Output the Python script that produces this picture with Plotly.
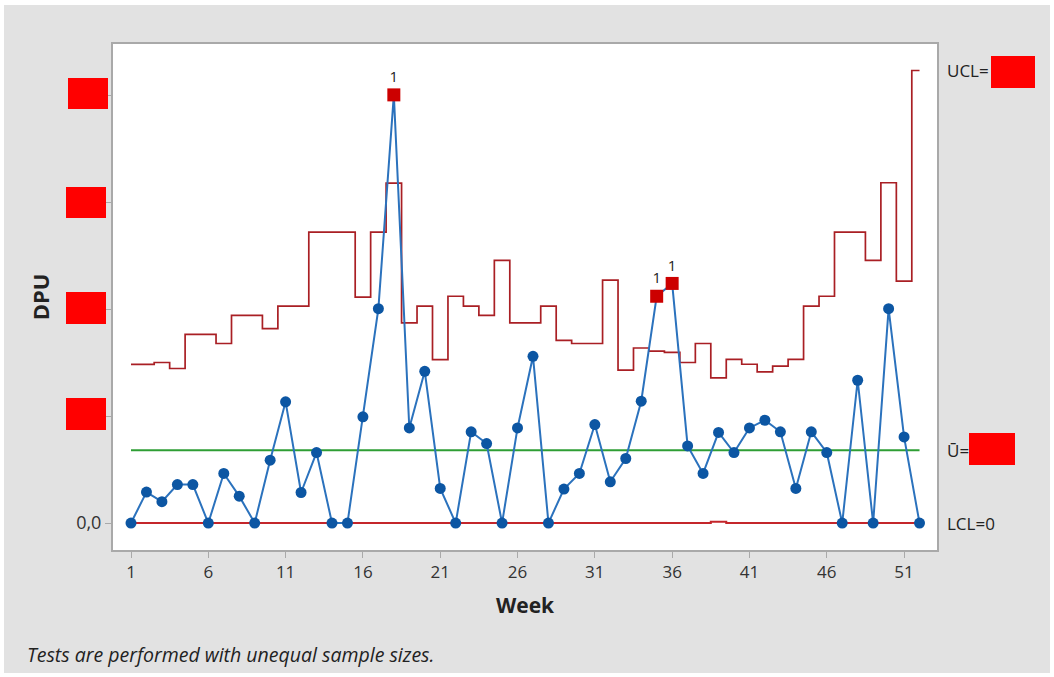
import plotly.graph_objects as go

# Weekly defects-per-unit (U chart with unequal sample sizes)
weeks = list(range(1, 53))
dpu = [0.000, 0.145, 0.100, 0.180, 0.180, 0.000, 0.232, 0.126, 0.000, 0.294,
       0.567, 0.143, 0.330, 0.000, 0.000, 0.497, 1.003, 2.003, 0.445, 0.710,
       0.162, 0.000, 0.427, 0.372, 0.000, 0.445, 0.780, 0.000, 0.159, 0.232,
       0.461, 0.193, 0.302, 0.570, 1.061, 1.121, 0.361, 0.232, 0.424, 0.330,
       0.445, 0.481, 0.427, 0.162, 0.427, 0.330, 0.000, 0.668, 0.000, 1.003,
       0.403, 0.000]
ucl = [0.742, 0.742, 0.751, 0.723, 0.883, 0.883, 0.840, 0.972, 0.972, 0.910,
       1.015, 1.015, 1.361, 1.361, 1.361, 1.057, 1.361, 1.590, 0.936, 1.015,
       0.765, 1.061, 1.015, 0.972, 1.229, 0.936, 0.936, 1.015, 0.855, 0.840,
       0.840, 1.136, 0.715, 0.819, 0.804, 0.798, 0.751, 0.840, 0.679, 0.766,
       0.743, 0.707, 0.734, 0.766, 1.015, 1.061, 1.361, 1.361, 1.229, 1.592,
       1.132, 2.117]
lcl = [0.0] * 38 + [0.006] + [0.0] * 13
u_bar = 0.341

x_ticks = [1, 6, 11, 16, 21, 26, 31, 36, 41, 46, 51]
y_ticks = [0.0, 0.5, 1.0, 1.5, 2.0]
y_tick_text = ["0,0", "", "", "", ""]

# Points beyond the upper limit (test 1)
flag_x = [w for w, v, u in zip(weeks, dpu, ucl) if v > u]
flag_y = [v for v, u in zip(dpu, ucl) if v > u]

W, H = 1054, 677
L, R, T, B = 113, 937, 44, 550
BG = "#e2e2e2"
FONT = "Open Sans"


def fx(px):
    return (px - L) / (R - L)


def fy(py):
    return (B - py) / (B - T)


fig = go.Figure()

fig.add_trace(go.Scatter(
    x=weeks, y=ucl, mode="lines", line=dict(color="#a91f24", width=1.7, shape="hvh"),
    hoverinfo="skip", showlegend=False))
fig.add_trace(go.Scatter(
    x=weeks, y=lcl, mode="lines", line=dict(color="#c4262b", width=2, shape="hvh"),
    hoverinfo="skip", showlegend=False))
fig.add_trace(go.Scatter(
    x=[weeks[0], weeks[-1]], y=[u_bar, u_bar], mode="lines",
    line=dict(color="#2e9e34", width=2), hoverinfo="skip", showlegend=False))
fig.add_trace(go.Scatter(
    x=weeks, y=dpu, mode="lines+markers",
    line=dict(color="#2b72bd", width=2),
    marker=dict(symbol="circle", size=11, color="#0c56a3"),
    showlegend=False))
fig.add_trace(go.Scatter(
    x=flag_x, y=flag_y, mode="markers+text",
    marker=dict(symbol="square", size=13, color="#cc0000"),
    text=["1"] * len(flag_x), textposition="top center",
    textfont=dict(family=FONT, size=15, color="#222222"),
    showlegend=False))

annotations = [
    dict(x=1, xref="paper", xshift=8, y=ucl[-1], yref="y", text="UCL=",
         xanchor="left", yanchor="middle", showarrow=False,
         font=dict(family=FONT, size=17, color="#222222")),
    dict(x=1, xref="paper", xshift=8, y=u_bar, yref="y", text="Ū=",
         xanchor="left", yanchor="middle", showarrow=False,
         font=dict(family=FONT, size=17, color="#222222")),
    dict(x=1, xref="paper", xshift=8, y=0, yref="y", text="LCL=0",
         xanchor="left", yanchor="middle", showarrow=False,
         font=dict(family=FONT, size=17, color="#222222")),
    dict(x=fx(25), xref="paper", y=fy(654), yref="paper",
         text="<i>Tests are performed with unequal sample sizes.</i>",
         xanchor="left", yanchor="middle", showarrow=False,
         font=dict(family=FONT, size=19.5, color="#222222")),
]

# Masked value labels
boxes = [(68, 78, 108, 109), (66, 187, 106, 218), (66, 292, 106, 324),
         (66, 398, 106, 430), (991, 56, 1035, 88), (969, 433, 1015, 465)]
shapes = []
for x0, y0, x1, y1 in boxes:
    shapes.append(dict(type="rect", xref="paper", yref="paper", layer="above",
                       x0=fx(x0), x1=fx(x1), y0=fy(y1), y1=fy(y0),
                       fillcolor="#ff0000", line=dict(width=0)))
# Thin white frame round the figure
for x0, y0, x1, y1 in [(0, 0, 4, H), (W - 4, 0, W, H), (0, 0, W, 5), (0, H - 4, W, H)]:
    shapes.append(dict(type="rect", xref="paper", yref="paper", layer="above",
                       x0=fx(x0), x1=fx(x1), y0=fy(y1), y1=fy(y0),
                       fillcolor="#ffffff", line=dict(width=0)))

fig.update_layout(
    width=W, height=H,
    margin=dict(l=L, r=W - R, t=T, b=H - B),
    paper_bgcolor=BG, plot_bgcolor="#ffffff",
    font=dict(family=FONT, size=17, color="#333333"),
    annotations=annotations, shapes=shapes,
    xaxis=dict(
        range=[-0.164, 53.13], tickmode="array", tickvals=x_ticks,
        showgrid=False, zeroline=False, showline=True, mirror=True,
        linecolor="#a9a9a9", linewidth=2, ticks="outside", ticklen=6,
        tickcolor="#a9a9a9", tickwidth=1, ticklabelstandoff=0,
        tickfont=dict(family=FONT, size=17, color="#333333"),
        title=dict(text="<b>Week</b>", standoff=16,
                   font=dict(family=FONT, size=21, color="#222222")),
    ),
    yaxis=dict(
        range=[-0.126, 2.241], tickmode="array", tickvals=y_ticks,
        ticktext=y_tick_text,
        showgrid=False, zeroline=False, showline=True, mirror=True,
        linecolor="#a9a9a9", linewidth=2, ticks="outside", ticklen=6,
        tickcolor="#a9a9a9", tickwidth=1,
        tickfont=dict(family=FONT, size=18, color="#333333"),
        title=dict(text="<b>DPU</b>", standoff=20,
                   font=dict(family=FONT, size=22, color="#222222")),
    ),
)

fig.write_html("out.html")
